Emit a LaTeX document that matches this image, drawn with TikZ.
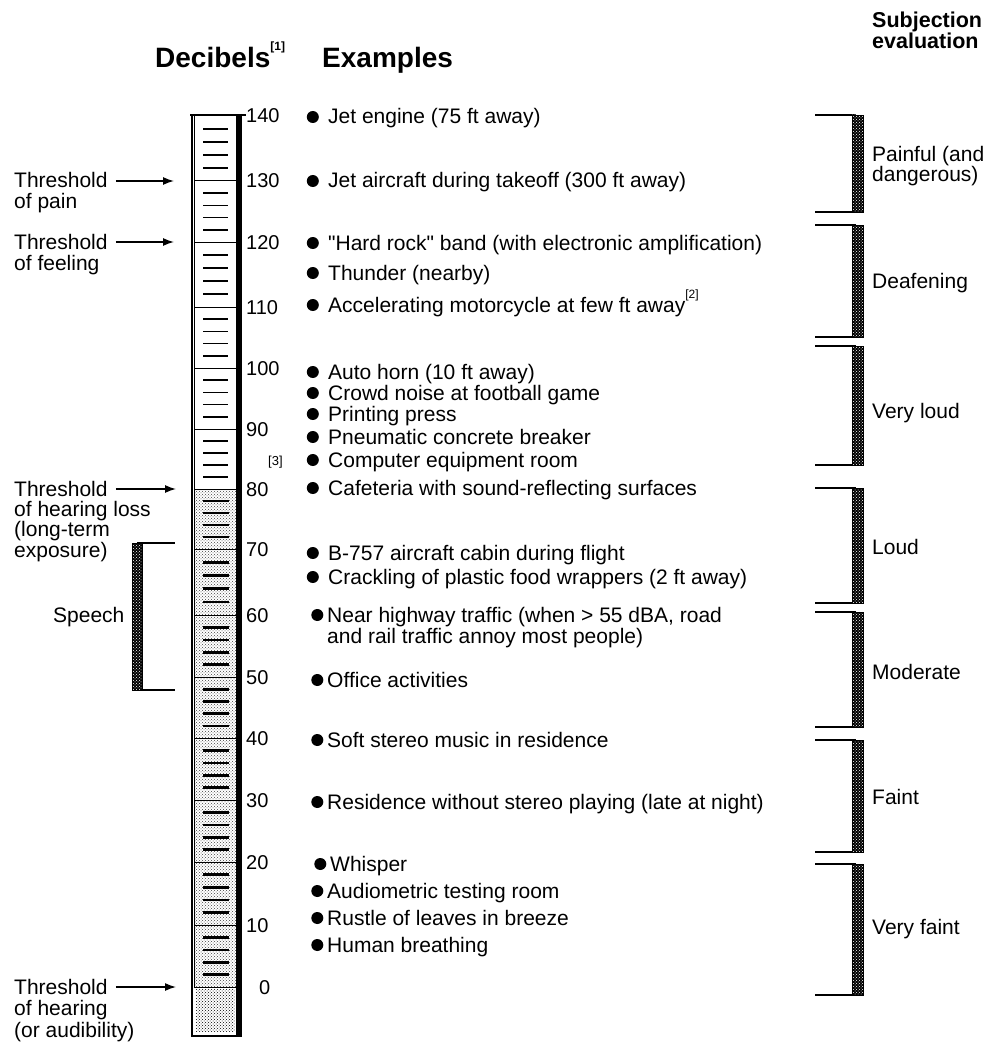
\documentclass[tikz,border=0pt]{standalone}
\usepackage{fontspec}
\setmainfont{Liberation Sans}
\usetikzlibrary{arrows.meta,positioning,patterns}

\newcommand{\fnmark}[1]{\raisebox{0.62em}{\fontsize{12}{12}\selectfont[#1]}}

\begin{document}
\begin{tikzpicture}[x=1pt,y=-1pt,
every node/.style={inner sep=0pt,anchor=west,text height=15pt,text depth=1pt,
  font=\fontsize{21}{23}\selectfont},
hdr/.style={font=\fontsize{28}{30}\selectfont\bfseries,text height=20pt,text depth=0pt},
hdrsm/.style={font=\fontsize{21.5}{23}\selectfont\bfseries,text height=15.5pt,text depth=0pt},
num/.style={font=\fontsize{20}{22}\selectfont},
lbl/.style={font=\fontsize{21}{23}\selectfont},
rlbl/.style={font=\fontsize{21}{23}\selectfont},
dot/.style={circle,fill,inner sep=0pt,text height=0pt,text depth=0pt,minimum size=12pt},
ex/.style={label={[dot,label distance=9pt]left:{}}},
ext/.style={label={[dot,label distance=3.5pt]left:{}}},
arr/.style={-{Latex[length=11pt,width=8pt]},line width=1.4pt},
bar/.style={preaction={fill=black},pattern=crosshatch dots,pattern color=white,line width=.8pt}]

\useasboundingbox (0,0) rectangle (989,1051);

% headings
\node[hdr] (Hdb) at (155,58) {Decibels\fnmark{1}};
\node[hdr] (Hex) at (322,58) {Examples};
\node[hdrsm] (Hsub1) at (872,20) {Subjection};
\node[hdrsm] (Hsub2) at (872,41) {evaluation};

% the column
\foreach \ya/\yb in {116/181,181/242,242/307,307/368,368/429,429/489}{
  \draw[line width=1pt] (194,\ya) rectangle (236,\yb);
  \foreach \k in {1,...,4}
    \draw[line width=1.6pt] (203,{\ya+\k*(\yb-\ya)/5}) -- (228,{\ya+\k*(\yb-\ya)/5});
}
\foreach \ya/\yb in {489/549,549/615,615/677,677/738,738/800,800/862,862/925,925/987}{
  \draw[line width=1pt,pattern=crosshatch dots,pattern color=black!75] (194,\ya) rectangle (236,\yb);
  \foreach \k in {1,...,4}
    \draw[line width=2.6pt] (203,{\ya+\k*(\yb-\ya)/5}) -- (229,{\ya+\k*(\yb-\ya)/5});
}
\fill[pattern=crosshatch dots,pattern color=black] (196,989) rectangle (235,1031);
\draw[line width=2.5pt] (192,116) -- (192,1036);
\draw[line width=6pt] (239,114) -- (239,1037);
\draw[line width=2pt] (191,1036) -- (242,1036);
\draw[line width=2.5pt] (190,115) -- (246,115);

% decibel values
\node[num] (D140) at (246,116) {140};
\node[num] (D130) at (246,181) {130};
\node[num] (D120) at (246,242) {120};
\node[num] (D110) at (246,307) {110};
\node[num] (D100) at (246,368) {100};
\node[num] (D90) at (246,429) {90};
\node[num] (D80) at (246,489) {80};
\node[font=\fontsize{13}{13}\selectfont,text height=9pt] (N3) at (268,461) {[3]};
\node[num] (D70) at (246,549) {70};
\node[num] (D60) at (246,615) {60};
\node[num] (D50) at (246,677) {50};
\node[num] (D40) at (246,738) {40};
\node[num] (D30) at (246,800) {30};
\node[num] (D20) at (246,862) {20};
\node[num] (D10) at (246,925) {10};
\node[num] (D0) at (259,987) {0};

% thresholds
\node[lbl] (T130) at (14,181) {Threshold};
\node[lbl] (T130b) at (14,201) {of pain};
\node[lbl] (T120) at (14,242) {Threshold};
\node[lbl] (T120b) at (14,263) {of feeling};
\node[lbl] (T80) at (14,489) {Threshold};
\node[lbl] (T80b) at (14,509) {of hearing loss};
\node[lbl] (T80c) at (14,529) {(long-term};
\node[lbl] (T80d) at (14,550) {exposure)};
\node[lbl] (T0) at (14,987) {Threshold};
\node[lbl] (T0b) at (14,1008) {of hearing};
\node[lbl] (T0c) at (14,1030) {(or audibility)};
\coordinate (P130) at (174,181);
\coordinate (P120) at (174,242);
\coordinate (P80) at (176,489);
\coordinate (P0) at (176,987);
\draw[arr] ([xshift=8pt]T130.east) -- (P130);
\draw[arr] ([xshift=8pt]T120.east) -- (P120);
\draw[arr] ([xshift=8pt]T80.east) -- (P80);
\draw[arr] ([xshift=8pt]T0.east) -- (P0);

% speech range
\node[lbl] (Sp) at (53,615) {Speech};
\draw[line width=1.4pt] (137,543) -- (175,543) (137,690) -- (175,690);
\draw[bar] (132,543) rectangle (142,690);

% examples
\node[ex] (E1) at (328,117) {Jet engine (75 ft away)};
\node[ex] (E2) at (328,181) {Jet aircraft during takeoff (300 ft away)};
\node[ex] (E3) at (328,243) {\textquotedbl Hard rock\textquotedbl\ band (with electronic amplification)};
\node[ex] (E4) at (328,273) {Thunder (nearby)};
\node[ex] (E5) at (328,305) {Accelerating motorcycle at few ft away\fnmark{2}};
\node[ex] (E6) at (328,372) {Auto horn (10 ft away)};
\node[ex] (E7) at (328,393) {Crowd noise at football game};
\node[ex] (E8) at (328,414) {Printing press};
\node[ex] (E9) at (328,437) {Pneumatic concrete breaker};
\node[ex] (E10) at (328,460) {Computer equipment room};
\node[ex] (E11) at (328,488) {Cafeteria with sound-reflecting surfaces};
\node[ex] (E12) at (328,553) {B-757 aircraft cabin during flight};
\node[ex] (E13) at (328,577) {Crackling of plastic food wrappers (2 ft away)};
\node[ext] (E14) at (327,615) {Near highway traffic (when > 55 dBA, road};
\node (E14b) at (327,636) {and rail traffic annoy most people)};
\node[ext] (E15) at (327,680) {Office activities};
\node[ext] (E16) at (327,740) {Soft stereo music in residence};
\node[ext] (E17) at (327,802) {Residence without stereo playing (late at night)};
\node[ext] (E18) at (330,864) {Whisper};
\node[ext] (E19) at (327,891) {Audiometric testing room};
\node[ext] (E20) at (327,918) {Rustle of leaves in breeze};
\node[ext] (E21) at (327,945) {Human breathing};

% subjective evaluation
\foreach \ya/\yb in {115/212,225/337,346/465,488/603,612/727,740/852,864/995}{
  \draw[line width=1.4pt] (815,\ya) -- (856,\ya) (815,\yb) -- (856,\yb);
  \draw[bar] (852,\ya) rectangle (863,\yb);
}
\node[rlbl] (S1) at (872,155) {Painful (and};
\node[rlbl] (S1b) at (872,175) {dangerous)};
\node[rlbl] (S2) at (872,281) {Deafening};
\node[rlbl] (S3) at (872,411) {Very loud};
\node[rlbl] (S4) at (872,547) {Loud};
\node[rlbl] (S5) at (872,672) {Moderate};
\node[rlbl] (S6) at (872,797) {Faint};
\node[rlbl] (S7) at (872,927) {Very faint};
\end{tikzpicture}
\end{document}
